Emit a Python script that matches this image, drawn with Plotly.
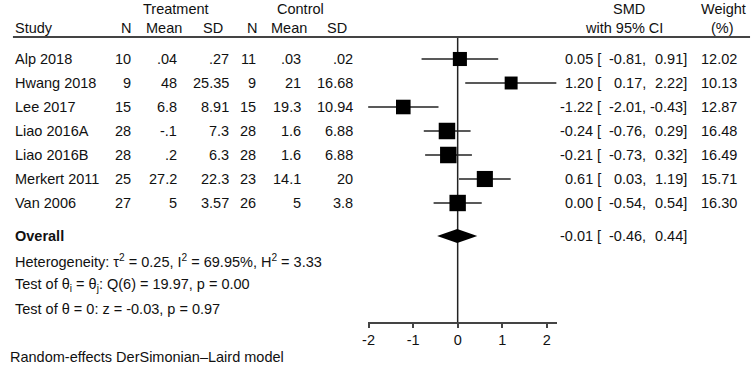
import math
import plotly.graph_objects as go

# ---------------- data ----------------
studies = ["Alp 2018", "Hwang 2018", "Lee 2017", "Liao 2016A", "Liao 2016B", "Merkert 2011", "Van 2006"]
treat_n = [10, 9, 15, 28, 28, 25, 27]
treat_mean = [0.04, 48, 6.8, -0.1, 0.2, 27.2, 5]
treat_sd = [0.27, 25.35, 8.91, 7.3, 6.3, 22.3, 3.57]
ctrl_n = [11, 9, 15, 28, 28, 23, 26]
ctrl_mean = [0.03, 21, 19.3, 1.6, 1.6, 14.1, 5]
ctrl_sd = [0.02, 16.68, 10.94, 6.88, 6.88, 20, 3.8]
smd = [0.05, 1.20, -1.22, -0.24, -0.21, 0.61, 0.00]
ci_lo = [-0.81, 0.17, -2.01, -0.76, -0.73, 0.03, -0.54]
ci_hi = [0.91, 2.22, -0.43, 0.29, 0.32, 1.19, 0.54]
weight = [12.02, 10.13, 12.87, 16.48, 16.49, 15.71, 16.30]
overall_est = -0.01
overall_lo = -0.46
overall_hi = 0.44
x_ticks = [-2, -1, 0, 1, 2]

het_text = "Heterogeneity: τ<sup>2</sup> = 0.25, I<sup>2</sup> = 69.95%, H<sup>2</sup> = 3.33"
q_text = "Test of θ<sub>i</sub> = θ<sub>j</sub>: Q(6) = 19.97, p = 0.00"
z_text = "Test of θ = 0: z = -0.03, p = 0.97"
model_text = "Random-effects DerSimonian–Laird model"

# ---------------- layout constants ----------------
W, H = 754, 370
FONT = "Liberation Sans, Arial, sans-serif"
FS = 14.5
TXT = "#111111"
LINE = "#444444"
row_y = [59 + 24 * i for i in range(len(studies))]
overall_y = 236
axis_px = 323
header_px = 37


def stata(v):
    s = f"{v:g}"
    if s.startswith("0."):
        s = s[1:]
    elif s.startswith("-0."):
        s = "-" + s[2:]
    return s


fig = go.Figure()

# CI lines
cx, cy = [], []
for lo, hi, y in zip(ci_lo, ci_hi, row_y):
    cx += [lo, hi, None]
    cy += [y, y, None]
fig.add_trace(go.Scatter(x=cx, y=cy, mode="lines", line=dict(color="#222222", width=1.5),
                         hoverinfo="skip", showlegend=False, cliponaxis=False))

# boxes
wmax = max(weight)
sizes = [16.5 * math.sqrt(w / wmax) for w in weight]
fig.add_trace(go.Scatter(x=smd, y=row_y, mode="markers",
                         marker=dict(symbol="square", size=sizes, color="#000000", opacity=1,
                                     line=dict(width=0, color="#000000")),
                         opacity=1, showlegend=False, cliponaxis=False))

# overall diamond
dh = 7
fig.add_trace(go.Scatter(x=[overall_lo, overall_est, overall_hi, overall_est, overall_lo],
                         y=[overall_y, overall_y - dh, overall_y, overall_y + dh, overall_y],
                         mode="lines", fill="toself", fillcolor="black", line=dict(width=0, color="black"),
                         showlegend=False, hoverinfo="skip"))

ann = []


def txt(x, y, s, anchor="left", bold=False):
    ann.append(dict(xref="paper", yref="y", x=x / W, y=y, text=("<b>%s</b>" % s) if bold else s,
                    showarrow=False, xanchor=anchor, yanchor="middle", borderpad=0,
                    font=dict(family=FONT, size=FS, color=TXT)))


# headers
txt(171, 9, "Treatment", "center")
txt(297, 9, "Control", "center")
txt(628, 9, "SMD", "center")
txt(723, 9, "Weight", "center")
txt(8, 28, "Study", "left")
txt(127, 28, "N", "right")
txt(159, 28, "Mean", "center")
txt(209, 28, "SD", "center")
txt(248, 28, "N", "center")
txt(285, 28, "Mean", "center")
txt(334, 28, "SD", "center")
txt(623, 28, "with 95% CI", "center")
txt(722, 28, "(%)", "center")

for i, y in enumerate(row_y):
    txt(8, y, studies[i])
    txt(127, y, str(treat_n[i]), "right")
    txt(173, y, stata(treat_mean[i]), "right")
    txt(226, y, stata(treat_sd[i]), "right")
    txt(253, y, str(ctrl_n[i]), "right")
    txt(298, y, stata(ctrl_mean[i]), "right")
    txt(351, y, stata(ctrl_sd[i]), "right")
    txt(601, y, f"{smd[i]:.2f} [", "right")
    txt(646, y, f"{ci_lo[i]:.2f},", "right")
    txt(687, y, f"{ci_hi[i]:.2f}]", "right")
    txt(738, y, f"{weight[i]:.2f}", "right")

txt(8, overall_y, "Overall", bold=True)
txt(601, overall_y, f"{overall_est:.2f} [", "right")
txt(646, overall_y, f"{overall_lo:.2f},", "right")
txt(687, overall_y, f"{overall_hi:.2f}]", "right")

txt(8, 261, het_text)
txt(8, 285, q_text)
txt(8, 309, z_text)
txt(3, 357, model_text)

shapes = [
    dict(type="line", xref="paper", yref="y", x0=7 / W, x1=750 / W, y0=header_px, y1=header_px,
         line=dict(color=LINE, width=2)),
    dict(type="line", xref="x", yref="y", x0=0, x1=0, y0=header_px, y1=axis_px,
         line=dict(color="#222222", width=1.5), layer="below"),
]

fig.update_layout(
    width=W, height=H,
    margin=dict(l=0, r=0, t=0, b=0),
    paper_bgcolor="white", plot_bgcolor="rgba(0,0,0,0)",
    showlegend=False,
    annotations=ann, shapes=shapes,
    xaxis=dict(domain=[365 / W, 555 / W], range=[-2.01, 2.22], anchor="free", position=1 - axis_px / H,
               showgrid=False, zeroline=False, showline=True, linecolor=LINE, linewidth=1.5,
               ticks="outside", ticklen=4, tickwidth=1.5, tickcolor=LINE,
               tickmode="array", tickvals=x_ticks, ticktext=[str(t) for t in x_ticks],
               tickfont=dict(family=FONT, size=FS, color=TXT), fixedrange=True),
    yaxis=dict(domain=[0, 1], range=[H, 0], visible=False, fixedrange=True),
)

fig.write_html("out.html", config={"displayModeBar": False},
               post_script="document.body.style.margin='0';document.body.style.overflow='hidden';")
